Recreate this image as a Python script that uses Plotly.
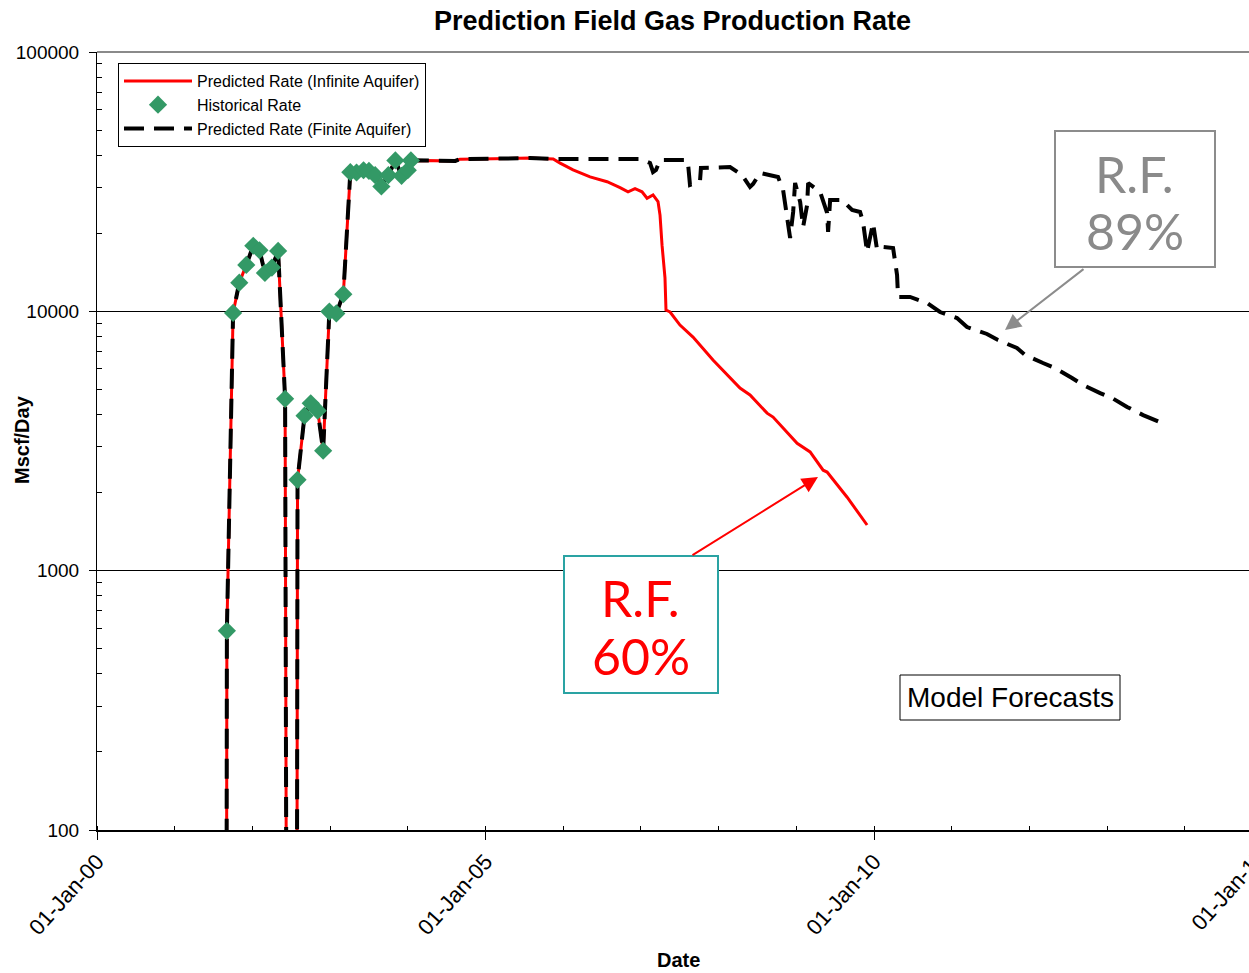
import datetime as dt
import plotly.graph_objects as go

# ---------------- data (decimal years, Mscf/Day) ----------------
hist_years = [2001.67, 2001.75, 2001.83, 2001.92, 2002.01, 2002.09, 2002.16, 2002.25,
              2002.33, 2002.42, 2002.58, 2002.67, 2002.75, 2002.84, 2002.91, 2002.99,
              2003.08, 2003.17, 2003.26, 2003.34, 2003.43, 2003.50, 2003.58, 2003.66,
              2003.75, 2003.84, 2003.92, 2004.00, 2004.04]
hist_rate = [586, 9860, 12900, 15100, 17900, 17200, 14070, 14750,
             17100, 4600, 2240, 3960, 4420, 4140, 2900, 9980,
             9820, 11650, 34400, 34300, 35000, 34800, 33500, 30300,
             33500, 38200, 33300, 35000, 38200]

# shared (history-matched) part of both prediction curves
match_years = [2001.66, 2001.67, 2001.75, 2001.83, 2001.92, 2002.01, 2002.09, 2002.16,
               2002.25, 2002.33, 2002.42, 2002.45, 2002.565, 2002.58, 2002.67, 2002.75,
               2002.84, 2002.91, 2002.99, 2003.08, 2003.17, 2003.26, 2003.34, 2003.43,
               2003.50, 2003.58, 2003.66, 2003.75, 2003.84, 2003.92, 2004.00, 2004.04,
               2004.61, 2004.67, 2005.57, 2005.87]
match_rate = [1, 586, 9860, 12900, 15100, 17900, 17200, 14070,
              14750, 17100, 4600, 1, 1, 2240, 3960, 4420,
              4140, 2900, 9980, 9820, 11650, 34400, 34300, 35000,
              34800, 33500, 30300, 33500, 38200, 33300, 35000, 38200,
              38000, 38600, 39000, 38700]

inf_years = [2005.959, 2006.126, 2006.345, 2006.564, 2006.731, 2006.834, 2006.924, 2007.014,
             2007.079, 2007.156, 2007.220, 2007.246, 2007.272, 2007.310, 2007.323, 2007.375,
             2007.503, 2007.671, 2007.928, 2008.275, 2008.404, 2008.623, 2008.700, 2009.009,
             2009.176, 2009.344, 2009.395, 2009.653, 2009.910]
inf_rate = [37300, 35100, 33000, 31600, 30000, 28900, 29700, 28900,
            27300, 28100, 26500, 23500, 18000, 13450, 10120, 9940,
            8850, 7960, 6490, 5060, 4760, 4050, 3910, 3100,
            2870, 2440, 2400, 1920, 1500]

fin_years = [2006.988, 2007.117, 2007.156, 2007.194, 2007.246, 2007.593, 2007.606, 2007.632,
             2007.761, 2007.773, 2008.147, 2008.301, 2008.404, 2008.443, 2008.533, 2008.764,
             2008.829, 2008.880, 2008.919, 2008.958, 2008.983, 2009.048, 2009.086, 2009.138,
             2009.151, 2009.305, 2009.395, 2009.408, 2009.434, 2009.588, 2009.717, 2009.820,
             2009.858, 2009.910, 2009.987, 2010.039, 2010.116, 2010.245, 2010.296, 2010.309,
             2010.463, 2010.682, 2010.849, 2011.068, 2011.197, 2011.454, 2011.596, 2011.840,
             2011.943, 2012.175, 2012.329, 2012.548, 2012.690, 2012.909, 2013.063, 2013.256,
             2013.462, 2013.707]
fin_rate = [38680, 37330, 34460, 35080, 38330, 38330, 37330, 30700,
            31810, 35700, 36020, 33550, 30160, 30970, 34160, 32960,
            29370, 22900, 19180, 24160, 31250, 26400, 21150, 25710,
            31250, 28850, 23950, 20230, 26870, 26870, 24590, 24160,
            22100, 16940, 21910, 17240, 17700, 17550, 13810, 11360,
            11360, 10770, 9940, 9420, 8700, 8180, 7750, 7220,
            6790, 6320, 6050, 5530, 5200, 4840, 4630, 4280,
            3980, 3710]

x_tick_vals = ["2000-01-01", "2005-01-01", "2010-01-01"]
x_tick_text = ["01-Jan-00", "01-Jan-05", "01-Jan-10"]
y_tick_vals = [100, 1000, 10000, 100000]
y_tick_text = ["100", "1000", "10000", "100000"]


def to_date(y):
    yr = int(y)
    start = dt.datetime(yr, 1, 1)
    days = (dt.datetime(yr + 1, 1, 1) - start).days
    return start + dt.timedelta(days=(y - yr) * days)


hist_x = [to_date(v) for v in hist_years]
inf_x = [to_date(v) for v in match_years + inf_years]
inf_y = match_rate + inf_rate
fin_x = [to_date(v) for v in match_years + fin_years]
fin_y = match_rate + fin_rate

FONT = "Liberation Sans, Arial, sans-serif"

fig = go.Figure()
fig.add_trace(go.Scatter(x=inf_x, y=inf_y, mode="lines",
                         name="Predicted Rate (Infinite Aquifer)",
                         line=dict(color="#ff0000", width=3), legendrank=1))
fig.add_trace(go.Scatter(x=fin_x, y=fin_y, mode="lines",
                         name="Predicted Rate (Finite Aquifer)",
                         line=dict(color="#000000", width=4, dash="20px,10px"),
                         legendrank=3))
fig.add_trace(go.Scatter(x=hist_x, y=hist_rate, mode="markers",
                         name="Historical Rate",
                         marker=dict(symbol="diamond", size=14, color="#339966"),
                         legendrank=2))

PL, PR, PT, PB = 97, 1249, 52, 830          # plot area in page pixels
W, H = PR - PL, PB - PT
FIG_W, FIG_H = 1249, 973


def px(x):
    return (x - PL) / W


def py(y):
    return (PB - y) / H


x_end = to_date(2000 + (PR - PL) / 77.7)

fig.update_layout(
    width=FIG_W, height=FIG_H,
    margin=dict(l=PL, r=FIG_W - PR, t=PT, b=FIG_H - PB, pad=0, autoexpand=False),
    paper_bgcolor="white", plot_bgcolor="white",
    font=dict(family=FONT, color="black"),
    showlegend=True,
    legend=dict(x=px(118), y=py(63), xanchor="left", yanchor="top",
                bgcolor="white", bordercolor="black", borderwidth=1,
                font=dict(size=16, family=FONT), tracegroupgap=0,
                itemwidth=68),
    xaxis=dict(type="date", range=[dt.datetime(2000, 1, 1), x_end],
               tickvals=x_tick_vals, ticktext=x_tick_text, tickangle=-48,
               tickfont=dict(size=22, family=FONT), automargin=False,
               ticks="outside", ticklen=8, tickcolor="black",
               showline=True, linecolor="black", linewidth=2,
               showgrid=False, zeroline=False,
               minor=dict(ticks="inside", ticklen=4, tickcolor="black",
                          dtick="M12", tick0="2000-01-01", showgrid=False)),
    yaxis=dict(type="log", range=[2, 5],
               tickvals=y_tick_vals, ticktext=y_tick_text,
               tickfont=dict(size=19, family=FONT), automargin=False,
               ticks="outside", ticklen=7, tickcolor="black",
               ticklabelstandoff=6,
               showline=True, linecolor="black", linewidth=1,
               showgrid=True, gridcolor="black", gridwidth=1,
               zeroline=False,
               minor=dict(ticks="inside", ticklen=5, tickcolor="black",
                          dtick="D1", showgrid=False)),
)

shapes = []
# top border of plot area (grey)
shapes.append(dict(type="line", xref="paper", yref="paper", x0=0, x1=1, y0=1, y1=1,
                   line=dict(color="#8a8a8a", width=2), layer="above"))
# R.F. boxes and Model Forecasts box
shapes.append(dict(type="rect", xref="paper", yref="paper",
                   x0=px(564), x1=px(718), y0=py(693), y1=py(556),
                   line=dict(color="#2aa3a3", width=2), fillcolor="white", layer="above"))
shapes.append(dict(type="rect", xref="paper", yref="paper",
                   x0=px(1055), x1=px(1215), y0=py(267), y1=py(131),
                   line=dict(color="#8c8c8c", width=2), fillcolor="white", layer="above"))
shapes.append(dict(type="rect", xref="paper", yref="paper",
                   x0=px(900), x1=px(1120), y0=py(720), y1=py(675),
                   line=dict(color="black", width=1), fillcolor="white", layer="above"))
fig.update_layout(shapes=shapes)


def txt(text, x, y, size, color="black", family=FONT, angle=0):
    return dict(text=text, xref="paper", yref="paper", x=px(x), y=py(y),
                xanchor="center", yanchor="middle", showarrow=False,
                textangle=angle, font=dict(size=size, family=family, color=color))


ann = [
    txt("<b>Prediction Field Gas Production Rate</b>", 672, 21, 27),
    txt("<b>Mscf/Day</b>", 22, 440, 20, angle=-90),
    txt("<b>Date</b>", 678, 960, 20),
    txt("01-Jan-15", 1228, 890, 22, angle=-48),
    txt("R.F.", 640, 598, 50, color="#ff0000", family="Lato"),
    txt("60%", 641, 656, 50, color="#ff0000", family="Lato"),
    txt("R.F.", 1134, 174, 50, color="#8a8a8a", family="Lato"),
    txt("89%", 1135, 231, 50, color="#8a8a8a", family="Lato"),
    txt("Model Forecasts", 1010, 697, 28),
]
# arrows
ann.append(dict(text="", xref="paper", yref="paper", x=px(818), y=py(477),
                axref="pixel", ayref="pixel", ax=691 - 818, ay=556 - 477,
                showarrow=True, arrowhead=2, arrowsize=1.6, arrowwidth=2,
                arrowcolor="#ff0000", standoff=0))
ann.append(dict(text="", xref="paper", yref="paper", x=px(1005), y=py(330),
                axref="pixel", ayref="pixel", ax=1085 - 1005, ay=268 - 330,
                showarrow=True, arrowhead=2, arrowsize=1.6, arrowwidth=2,
                arrowcolor="#8c8c8c", standoff=0))
fig.update_layout(annotations=ann)

# remove the browser's default 8px body margin so the figure fills the window
fig.write_html("out.html", config={"displayModeBar": False},
               post_script="document.body.style.margin='0px';document.body.style.overflow='hidden';")
